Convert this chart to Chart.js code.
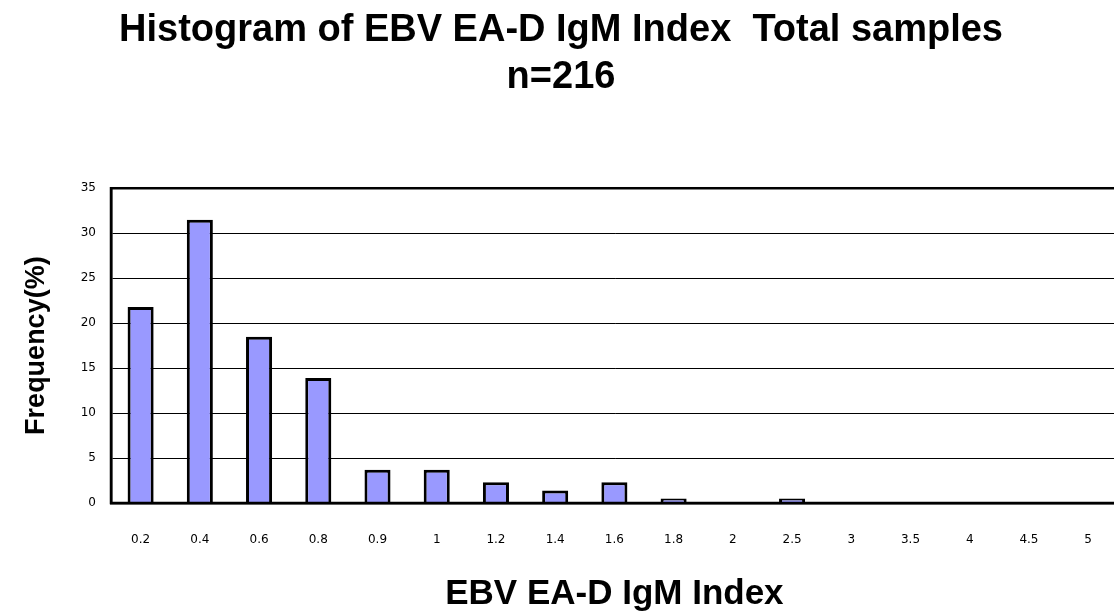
<!DOCTYPE html>
<html>
<head>
<meta charset="utf-8">
<script src="https://cdn.jsdelivr.net/npm/chart.js@4.4.0/dist/chart.umd.min.js"></script>
<style>
  html, body { margin: 0; padding: 0; background: #fff; overflow: hidden; }
  /* 원본처럼 플롯 오른쪽 끝이 잘리도록 창보다 조금 넓게 */
  #wrap { width: 1122px; height: 615px; }
</style>
</head>
<body>
<div id="wrap"><canvas id="histChart"></canvas></div>
<script>
// 구간 라벨 (EBV EA-D IgM Index)
const categories = ['0.2', '0.4', '0.6', '0.8', '0.9', '1', '1.2', '1.4', '1.6', '1.8', '2', '2.5', '3', '3.5', '4', '4.5', '5'];
// 빈도(%) - 그림에서 읽은 값, n=216
const frequency = [21.8, 31.5, 18.5, 13.9, 3.7, 3.7, 2.3, 1.4, 2.3, 0.5, 0, 0.5, 0, 0, 0, 0, 0];
const yTicks = [0, 5, 10, 15, 20, 25, 30, 35];

const titleLines = ['Histogram of EBV EA-D IgM Index  Total samples', 'n=216'];

// 플롯 영역 테두리
const borderBox = {
    id: 'borderBox',
    afterDatasetsDraw(chart) {
        const a = chart.chartArea;
        const ctx = chart.ctx;
        ctx.save();
        ctx.strokeStyle = '#000';
        ctx.lineWidth = 2.5;
        ctx.strokeRect(a.left, a.top, a.right - a.left, a.bottom - a.top);
        ctx.restore();
    }
};

const ctx = document.getElementById('histChart').getContext('2d');
const histChart = new Chart(ctx, {
    type: 'bar',
    data: {
        labels: categories,
        datasets: [{
            label: 'Frequency(%)',
            data: frequency,
            backgroundColor: '#9999FF',
            borderColor: '#000',
            borderWidth: 3,
            barPercentage: 0.44,
            categoryPercentage: 1
        }]
    },
    options: {
        responsive: true,
        maintainAspectRatio: false,
        animation: false,
        layout: {
            padding: { left: 0, right: 0, top: 0, bottom: 0 }
        },
        plugins: {
            legend: { display: false },
            tooltip: { enabled: false },
            title: {
                display: true,
                text: titleLines,
                color: '#000',
                font: { family: 'Liberation Sans', size: 38, weight: 'bold', lineHeight: 1.24 },
                padding: { top: 7, bottom: 87 }
            }
        },
        scales: {
            x: {
                grid: { display: false, drawTicks: false },
                border: { color: '#000', width: 2.5 },
                ticks: {
                    color: '#000',
                    font: { family: 'DejaVu Sans', size: 12 },
                    padding: 30,
                    maxRotation: 0,
                    autoSkip: false
                },
                title: {
                    display: true,
                    text: 'EBV EA-D IgM Index',
                    color: '#000',
                    font: { family: 'Liberation Sans', size: 35, weight: 'bold' },
                    padding: { top: 10, bottom: 0 }
                },
                afterFit(scale) { scale.height = 112; }
            },
            y: {
                min: 0,
                max: 35,
                afterBuildTicks(scale) {
                    scale.ticks = yTicks.map(v => ({ value: v }));
                },
                grid: { color: '#000', lineWidth: 1, drawTicks: false },
                border: { color: '#000', width: 2.5 },
                ticks: {
                    color: '#000',
                    font: { family: 'DejaVu Sans', size: 12 },
                    padding: 15
                },
                title: {
                    display: true,
                    text: 'Frequency(%)',
                    color: '#000',
                    font: { family: 'Liberation Sans', size: 27, weight: 'bold' },
                    padding: { top: 20, bottom: 0 }
                },
                afterFit(scale) { scale.width = 111; }
            }
        }
    },
    plugins: [borderBox]
});
</script>
</body>
</html>
